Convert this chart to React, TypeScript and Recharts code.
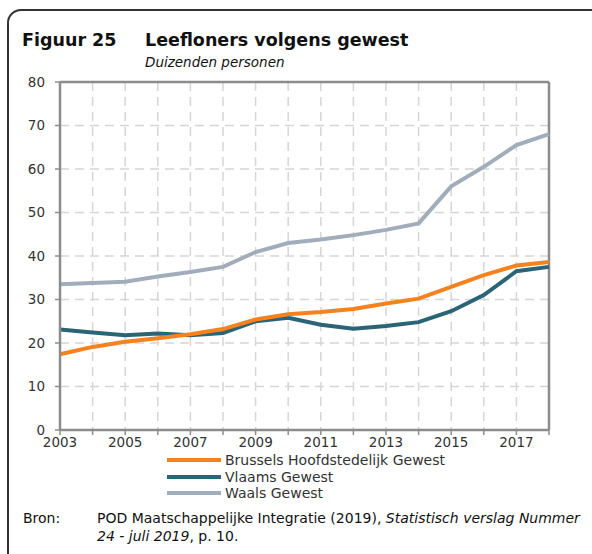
import React from 'react';
import { LineChart, Line, XAxis, YAxis, CartesianGrid, ReferenceLine } from 'recharts';

const years = [2003, 2004, 2005, 2006, 2007, 2008, 2009, 2010, 2011, 2012, 2013, 2014, 2015, 2016, 2017, 2018];
const brussels = [17.4, 19.1, 20.3, 21.1, 22.0, 23.2, 25.4, 26.6, 27.1, 27.8, 29.1, 30.2, 32.9, 35.6, 37.8, 38.6];
const vlaams = [23.1, 22.4, 21.8, 22.2, 21.8, 22.3, 25.0, 25.8, 24.2, 23.3, 23.9, 24.8, 27.3, 31.0, 36.5, 37.5];
const waals = [33.5, 33.8, 34.1, 35.3, 36.3, 37.5, 40.9, 43.0, 43.8, 44.8, 46.0, 47.5, 56.0, 60.5, 65.5, 68.0];
const yTicks = [0, 10, 20, 30, 40, 50, 60, 70, 80];
const seriesNames = ['Brussels Hoofdstedelijk Gewest', 'Vlaams Gewest', 'Waals Gewest'];

const data = years.map((y, i) => ({ year: y, b: brussels[i], v: vlaams[i], w: waals[i] }));

const COLORS = ['#f5821f', '#2b6377', '#a2adbb'];
const FONT = '"DejaVu Sans", sans-serif';
const AXIS = '#8c8c8c';
const TEXT = '#333';

export default function App() {
  return (
    <div style={{ position: 'absolute', left: 0, top: 0, width: 592, height: 554, overflow: 'hidden', background: '#fff', fontFamily: FONT }}>
      <div style={{ position: 'absolute', left: 7, top: 9, width: 700, height: 700, border: '2px solid #333', borderTopLeftRadius: 14 }} />
      <div style={{ position: 'absolute', left: 22, top: 30, fontSize: 17.5, lineHeight: '20px', fontWeight: 700, color: '#111', whiteSpace: 'nowrap' }}>Figuur 25</div>
      <div style={{ position: 'absolute', left: 145, top: 30, fontSize: 17.5, lineHeight: '20px', fontWeight: 700, color: '#111', whiteSpace: 'nowrap' }}>Leefloners volgens gewest</div>
      <div style={{ position: 'absolute', left: 145, top: 54, fontSize: 13.5, lineHeight: '17px', fontStyle: 'italic', color: '#111', whiteSpace: 'nowrap' }}>Duizenden personen</div>
      <div style={{ position: 'absolute', left: 0, top: 0 }}>
        <LineChart width={592} height={470} data={data} margin={{ top: 82, right: 43, left: 0, bottom: 10 }}>
          <CartesianGrid stroke="#d6d6d6" strokeDasharray="9 6" strokeWidth={1.5} />
          <XAxis
            dataKey="year"
            type="number"
            domain={[2003, 2018]}
            ticks={years}
            interval={0}
            tickFormatter={(v: number) => (v % 2 === 1 ? String(v) : '')}
            axisLine={{ stroke: AXIS, strokeWidth: 2.5 }}
            tickLine={{ stroke: AXIS, strokeWidth: 1.5 }}
            tickSize={5}
            tick={{ fill: TEXT, fontSize: 13.5, fontFamily: FONT }}
            height={30}
          />
          <YAxis
            type="number"
            domain={[0, 80]}
            ticks={yTicks}
            interval={0}
            width={60}
            axisLine={{ stroke: AXIS, strokeWidth: 2.5 }}
            tickLine={{ stroke: AXIS, strokeWidth: 1.5 }}
            tickSize={5}
            tickMargin={10}
            tick={{ fill: TEXT, fontSize: 13.5, fontFamily: FONT }}
          />
          <ReferenceLine y={80} stroke={AXIS} strokeWidth={2.5} />
          <ReferenceLine x={2018} stroke={AXIS} strokeWidth={2.5} />
          <Line dataKey="w" name={seriesNames[2]} stroke={COLORS[2]} strokeWidth={4} dot={false} isAnimationActive={false} />
          <Line dataKey="v" name={seriesNames[1]} stroke={COLORS[1]} strokeWidth={4} dot={false} isAnimationActive={false} />
          <Line dataKey="b" name={seriesNames[0]} stroke={COLORS[0]} strokeWidth={4} dot={false} isAnimationActive={false} />
        </LineChart>
      </div>
      <div style={{ position: 'absolute', left: 167, top: 452, fontSize: 14, color: TEXT }}>
        {seriesNames.map((n, i) => (
          <div key={n} style={{ display: 'flex', alignItems: 'center', height: 16.5, lineHeight: '16px' }}>
            <div style={{ width: 54, height: 4, background: COLORS[i], marginRight: 4 }} />
            <span style={{ whiteSpace: 'nowrap' }}>{n}</span>
          </div>
        ))}
      </div>
      <div style={{ position: 'absolute', left: 23, top: 509, fontSize: 14, lineHeight: '18px', color: '#111' }}>Bron:</div>
      <div style={{ position: 'absolute', left: 97, top: 509, fontSize: 14, color: '#111', lineHeight: '18px', width: 500, whiteSpace: 'nowrap' }}>
        POD Maatschappelijke Integratie (2019), <i>Statistisch verslag Nummer</i>
        <br />
        <i>24 - juli 2019</i>, p. 10.
      </div>
    </div>
  );
}
